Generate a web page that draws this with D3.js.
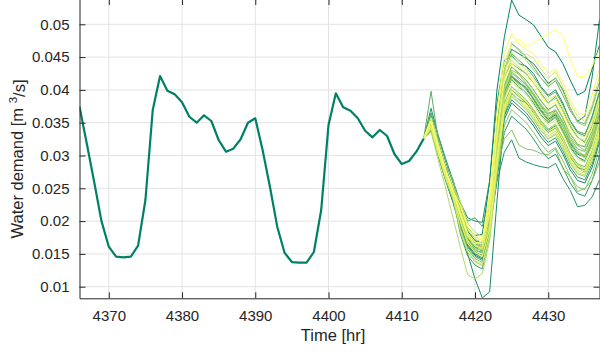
<!DOCTYPE html>
<html>
<head>
<meta charset="utf-8">
<script src="https://cdn.jsdelivr.net/npm/d3@7"></script>
<style>
  body { margin: 0; background: #fff; }
  svg { display: block; font-family: "Liberation Sans", Arial, sans-serif; }
</style>
</head>
<body>
<div id="chart"></div>
<script>
// observed demand, hourly
const observedHours = [4366, 4367, 4368, 4369, 4370, 4371, 4372, 4373, 4374, 4375, 4376, 4377, 4378, 4379, 4380, 4381,
  4382, 4383, 4384, 4385, 4386, 4387, 4388, 4389, 4390, 4391, 4392, 4393, 4394, 4395, 4396, 4397, 4398, 4399, 4400,
  4401, 4402, 4403, 4404, 4405, 4406, 4407, 4408, 4409, 4410, 4411, 4412, 4413];
const observedDemand = [0.03744, 0.0318, 0.0260, 0.0200, 0.0161, 0.01457, 0.01448, 0.01457, 0.01625, 0.02322, 0.03694,
  0.04212, 0.03988, 0.03933, 0.03811, 0.03591, 0.0350, 0.03613, 0.03526, 0.03236, 0.03058, 0.03104, 0.03247, 0.0350,
  0.03567, 0.03084, 0.02524, 0.01915, 0.01518, 0.01376, 0.01366, 0.01366, 0.01529, 0.02169, 0.03465, 0.03948, 0.03735,
  0.03683, 0.03567, 0.03378, 0.03277, 0.03389, 0.03297, 0.03023, 0.02870, 0.02916, 0.03058, 0.0326];

// forecast scenarios, hourly from 4413
const scenarioHours = [4413, 4414, 4415, 4416, 4417, 4418, 4419, 4420, 4421, 4422, 4423, 4424, 4425, 4426, 4427,
  4428, 4429, 4430, 4431, 4432, 4433, 4434, 4435, 4436, 4437];
const scenarioDemand = [
  [.0326,.0360,.0318,.0282,.0250,.0218,.0190,.0178,.0180,.0260,.0400,.0480,.0537,.0514,.0507,.0499,.0482,.0465,.0458,.0440,.0415,.0392,.0398,.0432,.0468],
  [.0326,.0345,.0305,.0268,.0238,.0195,.0162,.0148,.0142,.0185,.0300,.0395,.0420,.0410,.0404,.0385,.0368,.0355,.0362,.0338,.0318,.0302,.0298,.0318,.0360],
  [.0326,.0350,.0310,.0272,.0242,.0212,.0185,.0170,.0168,.0225,.0345,.0430,.0462,.0455,.0448,.0440,.0425,.0410,.0418,.0400,.0372,.0352,.0360,.0420,.0507],
  [.0326,.0342,.0300,.0262,.0228,.0190,.0150,.0112,.0083,.0092,.0230,.0360,.0395,.0385,.0380,.0368,.0350,.0338,.0345,.0322,.0298,.0282,.0275,.0298,.0335],
  [.0326,.0348,.0308,.0271,.0241,.0200,.0167,.0153,.0147,.0185,.0275,.0355,.0380,.0370,.0360,.0345,.0328,.0315,.0322,.0302,.0278,.0262,.0258,.0282,.0320],
  [.0326,.0372,.0330,.0295,.0262,.0228,.0205,.0200,.0198,.0262,.0380,.0445,.0452,.0440,.0436,.0425,.0405,.0392,.0400,.0380,.0352,.0335,.0330,.0360,.0398],
  [.0326,.0338,.0298,.0262,.0230,.0198,.0165,.0150,.0148,.0190,.0260,.0305,.0324,.0296,.0290,.0286,.0283,.0281,.0288,.0265,.0247,.0222,.0224,.0237,.0263],
  [.0326,.0341,.0301,.0264,.0234,.0207,.0174,.0160,.0154,.0185,.0265,.0335,.0360,.0350,.0340,.0325,.0308,.0295,.0302,.0282,.0258,.0242,.0238,.0262,.0300],
  [.0326,.0350,.0310,.0273,.0243,.0197,.0164,.0150,.0144,.0182,.0280,.0360,.0385,.0375,.0365,.0350,.0333,.0320,.0327,.0307,.0283,.0267,.0263,.0287,.0325],
  [.0326,.0347,.0307,.0270,.0240,.0205,.0174,.0156,.0152,.0198,.0302,.0390,.0416,.0404,.0396,.0380,.0362,.0350,.0358,.0336,.0312,.0298,.0292,.0318,.0355],
  [.0326,.0349,.0309,.0272,.0236,.0180,.0147,.0133,.0127,.0180,.0300,.0405,.0435,.0425,.0415,.0400,.0383,.0370,.0377,.0357,.0333,.0317,.0313,.0337,.0375],
  [.0326,.0365,.0328,.0290,.0258,.0225,.0200,.0205,.0192,.0230,.0330,.0420,.0440,.0432,.0425,.0410,.0395,.0380,.0390,.0370,.0345,.0328,.0320,.0345,.0382],
  [.0326,.0342,.0302,.0265,.0235,.0217,.0184,.0170,.0164,.0210,.0310,.0397,.0422,.0412,.0402,.0387,.0370,.0357,.0364,.0344,.0320,.0304,.0300,.0324,.0362],
  [.0326,.0343,.0303,.0266,.0236,.0193,.0160,.0146,.0140,.0195,.0320,.0430,.0455,.0445,.0435,.0420,.0403,.0390,.0397,.0377,.0353,.0337,.0333,.0357,.0395],
  [.0326,.0398,.0322,.0280,.0248,.0212,.0178,.0160,.0158,.0205,.0310,.0395,.0420,.0412,.0400,.0386,.0368,.0352,.0360,.0338,.0315,.0298,.0290,.0318,.0360],
  [.0326,.0342,.0302,.0265,.0235,.0210,.0177,.0163,.0157,.0200,.0288,.0375,.0400,.0390,.0380,.0365,.0348,.0335,.0342,.0322,.0298,.0282,.0278,.0302,.0340],
  [.0326,.0355,.0315,.0278,.0248,.0213,.0180,.0166,.0160,.0220,.0345,.0440,.0470,.0462,.0450,.0435,.0418,.0405,.0414,.0392,.0368,.0352,.0348,.0374,.0412],
  [.0326,.0347,.0307,.0270,.0240,.0208,.0175,.0161,.0158,.0185,.0270,.0385,.0428,.0418,.0408,.0393,.0376,.0363,.0370,.0350,.0326,.0310,.0306,.0330,.0368],
  [.0326,.0345,.0305,.0268,.0238,.0190,.0157,.0143,.0137,.0182,.0290,.0380,.0405,.0395,.0385,.0370,.0353,.0340,.0347,.0327,.0303,.0287,.0283,.0307,.0345],
  [.0326,.0355,.0315,.0283,.0264,.0215,.0180,.0165,.0160,.0210,.0320,.0400,.0425,.0418,.0408,.0392,.0375,.0360,.0368,.0348,.0322,.0305,.0298,.0322,.0362],
  [.0326,.0340,.0300,.0265,.0233,.0200,.0168,.0155,.0152,.0200,.0280,.0325,.0339,.0316,.0310,.0308,.0303,.0301,.0310,.0280,.0268,.0245,.0250,.0262,.0290],
  [.0326,.0345,.0305,.0268,.0238,.0213,.0180,.0166,.0160,.0195,.0275,.0345,.0370,.0360,.0350,.0335,.0318,.0305,.0312,.0292,.0268,.0252,.0248,.0272,.0310],
  [.0326,.0350,.0310,.0273,.0243,.0215,.0182,.0168,.0162,.0205,.0310,.0405,.0430,.0424,.0410,.0395,.0378,.0365,.0368,.0352,.0328,.0315,.0308,.0332,.0370],
  [.0326,.0340,.0300,.0263,.0233,.0185,.0152,.0138,.0132,.0175,.0275,.0365,.0390,.0380,.0370,.0355,.0338,.0325,.0332,.0312,.0288,.0272,.0268,.0292,.0330],
  [.0326,.0346,.0306,.0269,.0239,.0209,.0176,.0162,.0156,.0205,.0312,.0408,.0435,.0426,.0414,.0400,.0384,.0368,.0378,.0356,.0334,.0316,.0314,.0336,.0378],
  [.0326,.0348,.0308,.0270,.0240,.0206,.0172,.0158,.0156,.0215,.0335,.0425,.0472,.0460,.0445,.0430,.0418,.0408,.0418,.0398,.0372,.0350,.0345,.0372,.0410],
  [.0326,.0346,.0306,.0269,.0239,.0200,.0167,.0153,.0147,.0192,.0298,.0393,.0418,.0408,.0394,.0383,.0366,.0353,.0360,.0340,.0316,.0304,.0296,.0320,.0358],
  [.0326,.0336,.0292,.0250,.0205,.0160,.0118,.0112,.0120,.0170,.0275,.0370,.0400,.0392,.0382,.0370,.0352,.0340,.0348,.0326,.0300,.0286,.0280,.0305,.0342],
  [.0326,.0343,.0303,.0266,.0236,.0220,.0187,.0173,.0167,.0215,.0315,.0400,.0428,.0415,.0405,.0390,.0373,.0356,.0367,.0347,.0323,.0307,.0300,.0327,.0372],
  [.0326,.0344,.0304,.0267,.0237,.0202,.0169,.0155,.0160,.0240,.0340,.0420,.0445,.0435,.0425,.0410,.0393,.0380,.0387,.0367,.0343,.0327,.0323,.0347,.0385],
  [.0326,.0341,.0301,.0275,.0252,.0230,.0197,.0183,.0177,.0210,.0290,.0370,.0395,.0385,.0375,.0360,.0343,.0330,.0337,.0317,.0293,.0277,.0273,.0297,.0335],
  [.0326,.0348,.0308,.0271,.0241,.0211,.0178,.0164,.0158,.0195,.0285,.0367,.0392,.0382,.0372,.0357,.0340,.0327,.0334,.0314,.0290,.0274,.0270,.0294,.0332],
  [.0326,.0350,.0310,.0274,.0243,.0208,.0176,.0162,.0160,.0220,.0340,.0430,.0458,.0445,.0455,.0448,.0432,.0418,.0428,.0405,.0378,.0360,.0352,.0378,.0420],
  [.0326,.0345,.0305,.0268,.0238,.0187,.0154,.0140,.0134,.0180,.0290,.0387,.0412,.0402,.0392,.0377,.0360,.0347,.0354,.0334,.0310,.0294,.0290,.0314,.0352],
  [.0326,.0351,.0311,.0274,.0244,.0210,.0177,.0163,.0157,.0210,.0325,.0420,.0450,.0440,.0430,.0415,.0398,.0385,.0392,.0372,.0348,.0332,.0328,.0352,.0390],
  [.0326,.0352,.0312,.0275,.0245,.0223,.0190,.0176,.0170,.0210,.0300,.0377,.0402,.0392,.0382,.0367,.0350,.0337,.0344,.0324,.0300,.0284,.0280,.0304,.0342],
  [.0326,.0344,.0304,.0267,.0237,.0199,.0166,.0152,.0146,.0188,.0285,.0373,.0398,.0388,.0378,.0363,.0346,.0333,.0340,.0320,.0296,.0280,.0276,.0300,.0338],
  [.0326,.0358,.0318,.0280,.0248,.0215,.0182,.0168,.0165,.0230,.0365,.0455,.0486,.0470,.0462,.0455,.0440,.0425,.0432,.0412,.0385,.0365,.0362,.0392,.0432],
  [.0326,.0353,.0313,.0276,.0246,.0225,.0192,.0178,.0172,.0220,.0330,.0415,.0440,.0430,.0420,.0410,.0392,.0375,.0382,.0362,.0335,.0322,.0318,.0342,.0380],
  [.0326,.0352,.0312,.0276,.0245,.0210,.0180,.0165,.0170,.0240,.0360,.0440,.0470,.0478,.0466,.0471,.0479,.0486,.0491,.0484,.0446,.0421,.0420,.0436,.0462]
];

const xTicks = [4370, 4380, 4390, 4400, 4410, 4420, 4430];
const yTicks = [0.01, 0.015, 0.02, 0.025, 0.03, 0.035, 0.04, 0.045, 0.05];

var width = 600,
  height = 352;
var plotLeft = 79.5,
  plotRight = 599.5,
  plotTop = -1,
  plotBottom = 298.3;

var x = d3.scaleLinear().domain([4366, 4437]).range([plotLeft, plotRight]);
// place 0.01 and 0.05 where the reference has them, then stretch to the box
var y = d3.scaleLinear().domain([0.01, 0.05]).range([286.7, 24.3]);
y.domain([y.invert(plotBottom), y.invert(plotTop)]).range([plotBottom, plotTop]);

// matlab "summer" colormap
var summer = d3.interpolateRgb('rgb(0,128,102)', 'rgb(255,255,102)');
var axisColor = '#262626';

var svg = d3
  .select('#chart')
  .append('svg')
  .attr('width', width)
  .attr('height', height);

svg
  .append('defs')
  .append('clipPath')
  .attr('id', 'plot-clip')
  .append('rect')
  .attr('x', plotLeft)
  .attr('y', plotTop)
  .attr('width', plotRight - plotLeft)
  .attr('height', plotBottom - plotTop);

// grid
var grid = svg.append('g').attr('stroke', '#e3e3e3').attr('stroke-width', 1);
grid
  .selectAll('.vgrid')
  .data(xTicks)
  .enter()
  .append('line')
  .attr('x1', (d) => x(d))
  .attr('x2', (d) => x(d))
  .attr('y1', plotTop)
  .attr('y2', plotBottom);
grid
  .selectAll('.hgrid')
  .data(yTicks)
  .enter()
  .append('line')
  .attr('x1', plotLeft)
  .attr('x2', plotRight)
  .attr('y1', (d) => y(d))
  .attr('y2', (d) => y(d));

var plot = svg.append('g').attr('clip-path', 'url(#plot-clip)');

var scenarioLine = d3
  .line()
  .x((d, i) => x(scenarioHours[i]))
  .y((d) => y(d));

// colour each scenario by its index along the colormap
var n = scenarioDemand.length;
plot
  .selectAll('.scenario')
  .data(scenarioDemand)
  .enter()
  .append('path')
  .attr('class', 'scenario')
  .attr('fill', 'none')
  .attr('stroke', (d, i) => summer(i / (n - 1)))
  .attr('stroke-width', 1)
  .attr('stroke-linejoin', 'round')
  .attr('d', scenarioLine);

var observedLine = d3
  .line()
  .x((d, i) => x(observedHours[i]))
  .y((d) => y(d));

plot
  .append('path')
  .datum(observedDemand)
  .attr('fill', 'none')
  .attr('stroke', summer(0))
  .attr('stroke-width', 2.2)
  .attr('stroke-linejoin', 'round')
  .attr('d', observedLine);

// axes, ticks pointing inward, boxed
var xAxis = d3
  .axisBottom(x)
  .tickValues(xTicks)
  .tickSizeInner(-6)
  .tickSizeOuter(0)
  .tickPadding(11.6)
  .tickFormat((d) => String(d));
var yAxis = d3
  .axisLeft(y)
  .tickValues(yTicks)
  .tickSizeInner(-6)
  .tickSizeOuter(0)
  .tickPadding(10)
  .tickFormat((d) => String(d));

var gx = svg.append('g').attr('transform', 'translate(0,' + plotBottom + ')').call(xAxis);
var gy = svg.append('g').attr('transform', 'translate(' + plotLeft + ',0)').call(yAxis);
var gxTop = svg
  .append('g')
  .attr('transform', 'translate(0,' + plotTop + ')')
  .call(d3.axisTop(x).tickValues(xTicks).tickSizeInner(-6).tickSizeOuter(0).tickFormat(''));
var gyRight = svg
  .append('g')
  .attr('transform', 'translate(' + plotRight + ',0)')
  .call(d3.axisRight(y).tickValues(yTicks).tickSizeInner(-6).tickSizeOuter(0).tickFormat(''));

[gx, gy, gxTop, gyRight].forEach((g) => {
  g.select('.domain').attr('stroke', axisColor).attr('stroke-width', 1);
  g.selectAll('.tick line').attr('stroke', axisColor).attr('stroke-width', 1);
  g.selectAll('.tick text')
    .attr('fill', axisColor)
    .style('font-family', '"Liberation Sans", Arial, sans-serif')
    .style('font-size', '15px');
});

svg
  .append('text')
  .attr('x', 333)
  .attr('y', 341)
  .attr('text-anchor', 'middle')
  .attr('fill', axisColor)
  .style('font-size', '16.5px')
  .text('Time [hr]');

var ylab = svg
  .append('text')
  .attr('transform', 'translate(22.5,159) rotate(-90)')
  .attr('text-anchor', 'middle')
  .attr('fill', axisColor)
  .style('font-size', '16.5px');
ylab.append('tspan').text('Water demand [m ');
ylab.append('tspan').attr('dy', '-0.45em').style('font-size', '11.5px').text('3');
ylab.append('tspan').attr('dy', '0.45em').text('/s]');
</script>
</body>
</html>
